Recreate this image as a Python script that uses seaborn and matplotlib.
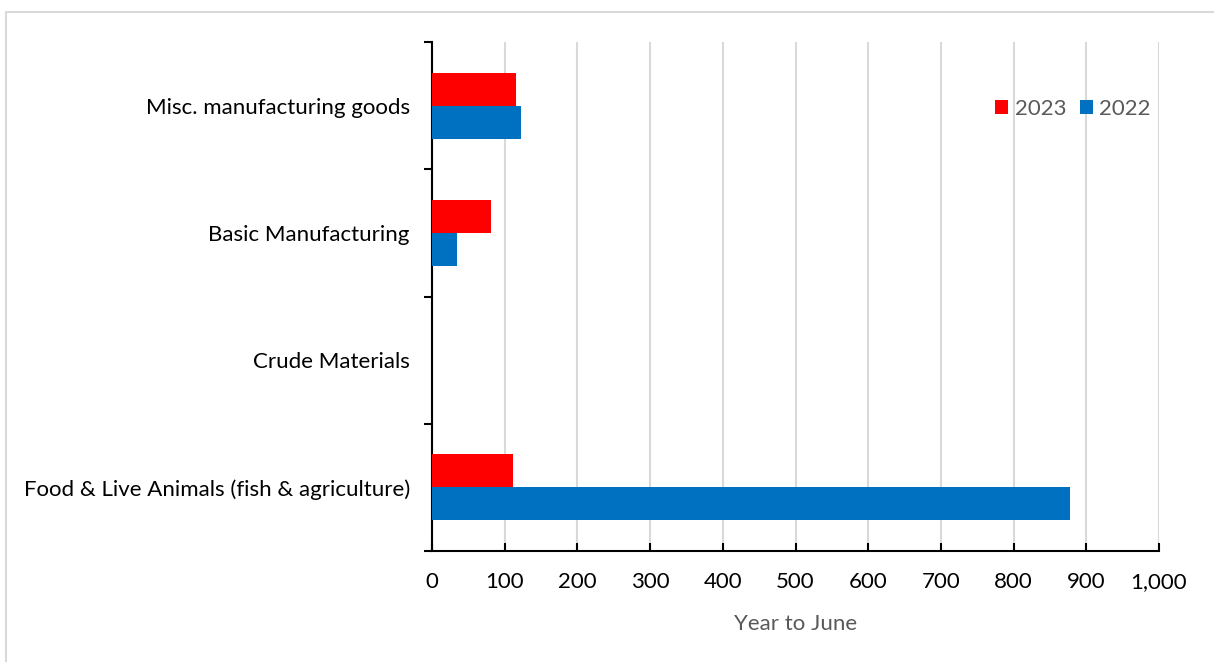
import matplotlib
matplotlib.use("Agg")
import matplotlib.pyplot as plt
from matplotlib.patches import Rectangle
from matplotlib.ticker import FuncFormatter, FixedLocator
import seaborn as sns
import pandas as pd

categories = [
    "Misc. manufacturing goods",
    "Basic Manufacturing",
    "Crude Materials",
    "Food & Live Animals (fish & agriculture)",
]
years = ["2023", "2022"]
values_2023 = [115, 81, 0, 111]
values_2022 = [123, 35, 0, 878]

df = pd.DataFrame({
    "category": categories * 2,
    "year": [years[0]] * len(categories) + [years[1]] * len(categories),
    "value": values_2023 + values_2022,
})

sns.set_theme(style="white")
plt.rcParams["font.family"] = ["Lato", "DejaVu Sans"]

W, H = 1214, 662
fig = plt.figure(figsize=(W / 100, H / 100), dpi=100)
ax = fig.add_axes([432 / W, 1 - 551 / H, (1159 - 432) / W, (551 - 42) / H])

palette = {"2023": "#FF0000", "2022": "#0070C0"}
sns.barplot(data=df, y="category", x="value", hue="year", hue_order=years,
            order=categories, orient="h", palette=palette, width=0.52,
            gap=0, saturation=1, linewidth=0, ax=ax, zorder=3)

ax.set_xlim(0, 1000)
ax.set_ylim(3.5, -0.5)
ax.set_xticks(range(0, 1001, 100))
ax.xaxis.set_major_formatter(FuncFormatter(lambda v, p: f"{int(v):,}"))
ax.grid(axis="x", color="#D9D9D9", linewidth=1.5, zorder=0)
ax.grid(axis="y", visible=False)

for s in ["top", "right"]:
    ax.spines[s].set_visible(False)
for s in ["left", "bottom"]:
    ax.spines[s].set_color("black")
    ax.spines[s].set_linewidth(1.5)

ax.tick_params(axis="x", direction="in", length=6, width=1.5, color="black",
               labelsize=16, labelcolor="black", pad=15, bottom=True)
ax.tick_params(axis="y", which="major", length=0, labelsize=16,
               labelcolor="black", pad=16)
ax.yaxis.set_minor_locator(FixedLocator([-0.5, 0.5, 1.5, 2.5, 3.5]))
ax.tick_params(axis="y", which="minor", direction="out", length=6, width=1.5,
               color="black", left=True)

ax.set_ylabel("")
ax.set_xlabel("Year to June", fontsize=16, color="#595959", labelpad=16)

handles, labels = ax.get_legend_handles_labels()
ax.legend(handles, labels, loc="upper right", bbox_to_anchor=(1171 / W, 1 - 79 / H),
          bbox_transform=fig.transFigure, ncol=2, frameon=False,
          handlelength=0.6, handleheight=0.6, handletextpad=0.3,
          columnspacing=0.6, fontsize=16, labelcolor="#595959")

# light outer frame around the chart area
fig.patches.append(Rectangle((6 / W, -0.1), 1.2, 1 - 12 / H + 0.1,
                             transform=fig.transFigure, fill=False,
                             edgecolor="#D9D9D9", linewidth=1.5))

fig.savefig("out.png", dpi=100)
